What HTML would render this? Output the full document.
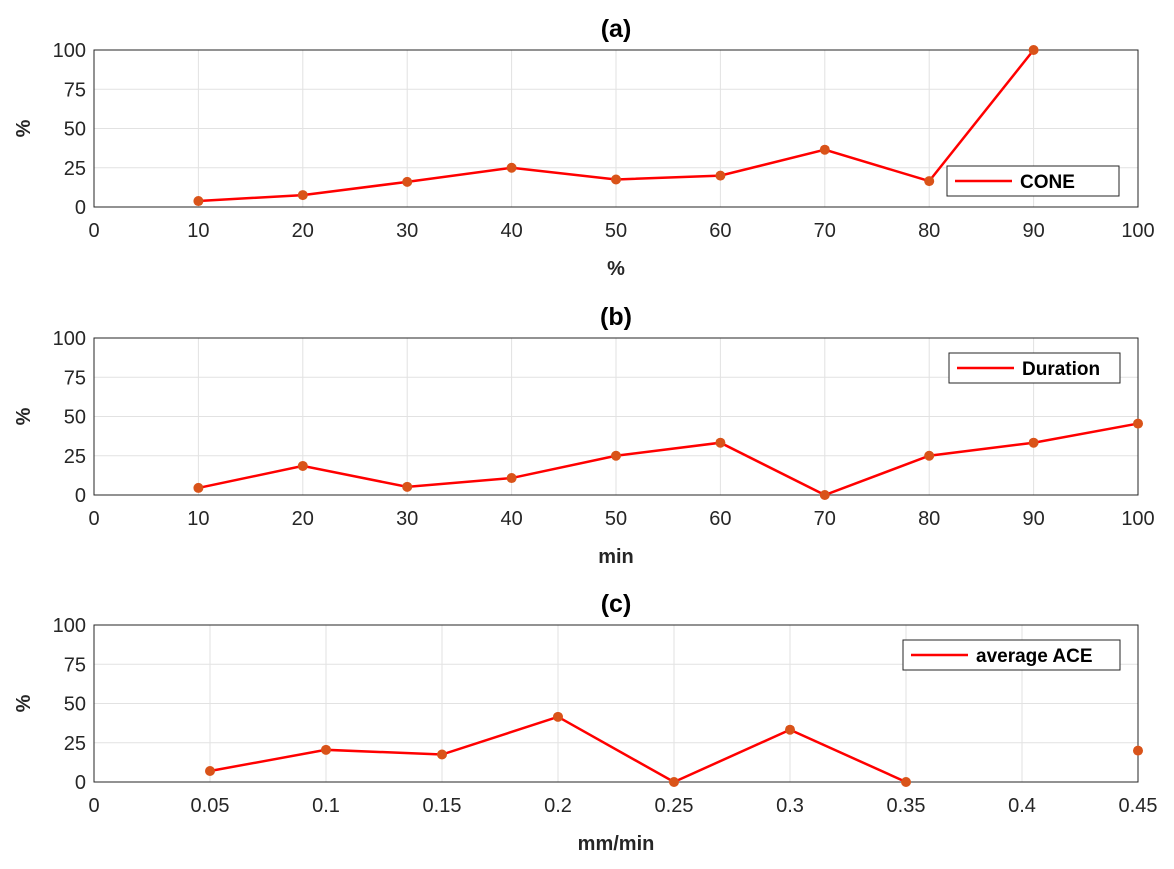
<!DOCTYPE html>
<html><head><meta charset="utf-8">
<style>
body{margin:0;background:#fff;font-family:"Liberation Sans",Arial,sans-serif;}
svg text{font-family:"Liberation Sans",Arial,sans-serif;}
</style></head>
<body>
<svg id="chart" width="1174" height="864" xmlns="http://www.w3.org/2000/svg"></svg>
<script>
const xA=[10,20,30,40,50,60,70,80,90];
const yA=[3.8,7.6,16,25,17.5,20,36.5,16.5,100];
const xB=[10,20,30,40,50,60,70,80,90,100];
const yB=[4.5,18.5,5.2,10.8,25,33.3,0,25,33.3,45.5];
const xC=[0.05,0.1,0.15,0.2,0.25,0.3,0.35,0.4,0.45];
const yC=[7,20.5,17.5,41.5,0,33.3,0,null,20];
const xTicksAB=[0,10,20,30,40,50,60,70,80,90,100];
const xTicksC=[0,0.05,0.1,0.15,0.2,0.25,0.3,0.35,0.4,0.45];
const yTicks=[0,25,50,75,100];

const svg=document.getElementById('chart');
const NS='http://www.w3.org/2000/svg';
function mk(tag,attrs,parent){const e=document.createElementNS(NS,tag);for(const k in attrs)e.setAttribute(k,attrs[k]);(parent||svg).appendChild(e);return e;}

const panels=[
 {name:'a',title:'(a)',top:50,xs:xA,ys:yA,xt:xTicksAB,xmax:100,xlabel:'%',legend:'CONE',lg:[947,166,172]},
 {name:'b',title:'(b)',top:338,xs:xB,ys:yB,xt:xTicksAB,xmax:100,xlabel:'min',legend:'Duration',lg:[949,353,171]},
 {name:'c',title:'(c)',top:625,xs:xC,ys:yC,xt:xTicksC,xmax:0.45,xlabel:'mm/min',legend:'average ACE',lg:[903,640,217]}
];
const L=94,R=1138,H=157;
panels.forEach(p=>{
 const g=mk('g',{});
 
 
 const bottom=p.top+H;
 const sx=v=>L+(v/p.xmax)*(R-L);
 const sy=v=>bottom-v/100*H;
 mk('rect',{x:L,y:p.top,width:R-L,height:H,fill:'#fff'},g);
 p.xt.forEach(t=>{
  mk('line',{x1:sx(t),x2:sx(t),y1:p.top,y2:bottom,stroke:'#e2e2e2','stroke-width':1},g);
  const tx=mk('text',{x:sx(t),y:bottom+30,'text-anchor':'middle','font-size':20,fill:'#262626'},g);
  tx.textContent=String(t);
  
  
 });
 yTicks.forEach(t=>{
  mk('line',{x1:L,x2:R,y1:sy(t),y2:sy(t),stroke:'#e2e2e2','stroke-width':1},g);
  const tx=mk('text',{x:L-8,y:sy(t)+7,'text-anchor':'end','font-size':20,fill:'#262626'},g);
  tx.textContent=String(t);
  
  
 });
 mk('rect',{x:L,y:p.top,width:R-L,height:H,fill:'none',stroke:'#262626','stroke-width':1},g);
 // line segments broken at nulls
 let d='',pen=false;
 p.xs.forEach((x,i)=>{const v=p.ys[i];if(v===null){pen=false;return;}d+=(pen?'L':'M')+sx(x)+' '+sy(v)+' ';pen=true;});
 const line=mk('path',{d:d,fill:'none',stroke:'#ff0000','stroke-width':2.5},g);
 
 
 p.xs.forEach((x,i)=>{const v=p.ys[i];if(v===null)return;
  const c=mk('circle',{cx:sx(x),cy:sy(v),r:5,fill:'#d95319'},g);
  
  
 });
 const t=mk('text',{x:(L+R)/2,y:p.top-13,'text-anchor':'middle','font-size':25,'font-weight':'bold',fill:'#000'},g);
 t.textContent=p.title;
 
 
 const xl=mk('text',{x:(L+R)/2,y:bottom+68,'text-anchor':'middle','font-size':20,'font-weight':'bold',fill:'#262626'},g);
 xl.textContent=p.xlabel;
 
 
 const yl=mk('text',{x:30,y:p.top+H/2,'text-anchor':'middle','font-size':20,'font-weight':'bold',fill:'#262626',transform:'rotate(-90 30 '+(p.top+H/2)+')'},g);
 yl.textContent='%';
 
 
 const [lx,ly,lw]=p.lg;
 const lgG=mk('g',{},g);
 
 
 mk('rect',{x:lx,y:ly,width:lw,height:30,fill:'#fff',stroke:'#262626','stroke-width':1},lgG);
 mk('line',{x1:lx+8,x2:lx+65,y1:ly+15,y2:ly+15,stroke:'#ff0000','stroke-width':2.5},lgG);
 const lt=mk('text',{x:lx+73,y:ly+22,'font-size':19,'font-weight':'bold',fill:'#000'},lgG);
 lt.textContent=p.legend;
 
 
});
</script>
</body></html>
